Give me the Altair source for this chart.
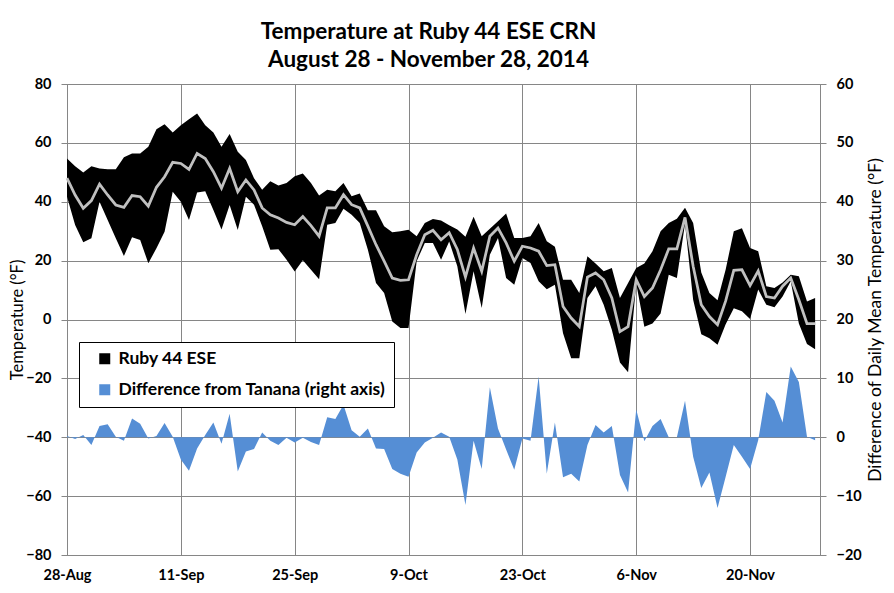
import altair as alt
import pandas as pd

start_date = "2014-08-28"

t_max = [54.7, 52.1, 49.9, 52.1, 51.3, 51.0, 51.0, 55.1, 56.4, 56.4,
         58.7, 64.6, 66.3, 63.5, 66.0, 68.0, 70.0, 66.0, 63.5, 58.7,
         63.0, 57.0, 54.2, 48.0, 44.1, 47.0, 45.5, 46.4, 48.7, 49.6,
         46.4, 42.1, 44.1, 43.6, 46.4, 41.9, 42.8, 37.1, 37.1, 31.7,
         29.6, 30.0, 30.5, 28.3, 32.8, 34.1, 33.6, 32.0, 30.6, 28.1,
         34.9, 28.3, 30.8, 33.4, 36.0, 27.7, 27.7, 28.3, 32.8, 26.6,
         24.7, 13.5, 13.5, 9.0, 21.5, 19.0, 16.4, 17.5, 7.3, 12.4,
         17.5, 19.0, 23.2, 30.0, 32.8, 34.2, 38.0, 32.8, 16.0, 9.0,
         6.5, 17.0, 30.0, 31.0, 24.3, 23.2, 11.3, 10.7, 12.6, 15.2,
         14.7, 6.1, 7.3]

t_mean = [48.0, 42.3, 37.8, 40.4, 46.0, 42.3, 38.9, 38.1, 42.1, 41.7,
          38.5, 44.9, 48.5, 53.4, 53.0, 51.0, 56.4, 54.7, 50.2, 44.6,
          51.3, 43.4, 47.4, 44.0, 37.9, 35.6, 34.5, 33.0, 32.2, 35.0,
          31.9, 28.3, 37.9, 37.9, 42.4, 39.0, 37.9, 31.7, 25.4, 19.8,
          14.1, 13.3, 13.5, 22.0, 28.8, 30.3, 27.1, 29.5, 23.8, 14.4,
          24.3, 16.4, 28.3, 31.1, 26.0, 19.8, 24.9, 24.3, 23.2, 18.3,
          18.6, 4.4, 0.5, -2.4, 14.4, 15.8, 13.5, 7.3, -4.1, -2.4,
          13.5, 7.8, 10.7, 16.9, 24.0, 24.0, 34.7, 18.1, 5.0, 1.0,
          -1.8, 6.3, 16.7, 16.9, 11.5, 16.5, 7.8, 7.3, 11.3, 14.1,
          6.7, -1.4, -1.4]

t_min = [41.7, 32.1, 26.2, 27.6, 40.0, 33.8, 27.6, 21.6, 27.9, 27.0,
         19.1, 24.2, 29.8, 43.4, 40.0, 33.8, 43.1, 43.6, 37.2, 30.6,
         38.9, 30.4, 41.7, 39.0, 31.7, 23.7, 23.9, 20.3, 16.3, 20.1,
         16.9, 13.7, 32.2, 32.8, 37.6, 35.6, 32.8, 23.7, 12.4, 9.0,
         -0.7, -2.9, -2.9, 19.8, 26.0, 26.0, 20.3, 26.5, 18.1, 1.9,
         16.4, 3.9, 22.0, 27.7, 14.1, 11.8, 20.9, 19.2, 13.0, 10.3,
         11.8, -4.7, -13.2, -13.2, 7.3, 11.3, 5.0, -3.5, -14.6, -17.9,
         12.2, -2.5, -1.4, 2.0, 15.2, 14.1, 32.5, 6.7, -5.0, -6.4,
         -8.6, -1.6, 3.8, 2.8, 0.2, 10.2, 5.0, 4.2, 7.8, 13.0,
         -1.4, -8.3, -10.1]

diff_tanana = [0.2, -0.3, 0.4, -1.3, 1.9, 2.2, 0.1, -0.6, 3.2, 2.3,
               -0.2, 0.2, 2.4, 0.1, -3.8, -5.7, -1.9, 0.4, 2.5, -1.1,
               4.0, -5.8, -2.4, -2.0, 0.8, -0.6, -1.3, -0.1, -0.9, -0.1,
               -0.8, -1.3, 3.4, 3.1, 5.5, 1.2, 0.1, 1.5, -1.9, -2.0,
               -5.4, -6.2, -6.7, -2.6, -0.9, -0.1, 0.8, 0.1, -3.8, -11.5,
               -0.6, -5.4, 8.5, 1.5, -2.1, -5.5, -0.2, -0.6, 10.3, -6.2,
               2.5, -6.8, -6.2, -7.5, -1.3, 2.1, 0.8, 1.9, -6.4, -9.4,
               4.7, -0.7, 1.9, 3.1, 0.0, 0.0, 6.2, -3.3, -8.6, -6.0,
               -12.0, -6.7, -1.3, -3.3, -5.4, -0.5, 7.7, 6.2, 2.5, 12.0,
               9.4, 0.1, -0.5]

tick_dates = [(2014, 8, 28), (2014, 9, 11), (2014, 9, 25), (2014, 10, 9),
              (2014, 10, 23), (2014, 11, 6), (2014, 11, 20)]
y_left_ticks = [-80, -60, -40, -20, 0, 20, 40, 60, 80]
y_right_ticks = [-20, -10, 0, 10, 20, 30, 40, 50, 60]
series_names = ["Ruby 44 ESE", "Difference from Tanana (right axis)"]
series_colors = ["#000000", "#558ED5"]

dates = pd.date_range(start_date, periods=len(t_max), freq="D").strftime("%Y-%m-%dT00:00:00")
df = pd.DataFrame({"date": list(dates), "tmax": t_max, "tmean": t_mean,
                   "tmin": t_min, "diff": diff_tanana})
df["band_series"] = series_names[0]
df["diff_series"] = series_names[1]

FONT = "Lato"
GRID = "#868686"

axis_style = dict(
    gridColor=GRID, gridWidth=1, gridOpacity=1, domainColor=GRID, tickColor=GRID,
    labelFont=FONT, labelFontWeight="bold", labelFontSize=14.5, labelColor="#000000",
    titleFont=FONT, titleFontWeight="normal", titleColor="#000000",
)

x_enc = alt.X(
    "date:T",
    scale=alt.Scale(domain=[alt.DateTime(year=2014, month=8, date=28),
                            alt.DateTime(year=2014, month=11, date=28, hours=14, minutes=24)]),
    axis=alt.Axis(values=[alt.DateTime(year=y, month=m, date=d) for y, m, d in tick_dates],
                  format="%-d-%b", title=None, ticks=False, labelPadding=13,
                  grid=True, labelAlign="center", **axis_style),
)

color_scale = alt.Scale(domain=series_names, range=series_colors)
legend = alt.Legend(title=None, orient="none", legendX=12, legendY=258,
                    strokeColor="#000000", fillColor="#FFFFFF", padding=8,
                    symbolOffset=9, symbolType="square", symbolSize=121,
                    symbolStrokeWidth=0, symbolOpacity=1, labelFont=FONT,
                    labelFontWeight="bold", labelFontSize=17.5, labelColor="#000000",
                    rowPadding=12, labelOffset=5, labelLimit=400)

left_axis = alt.Axis(values=y_left_ticks, title="Temperature (°F)", grid=True,
                     tickSize=6, labelPadding=10, titlePadding=0, titleFontSize=16.5,
                     **axis_style)
left_scale = alt.Scale(domain=[-80, 80], nice=False, zero=False)

band = alt.Chart(df).mark_area(opacity=1, interpolate="linear").encode(
    x=x_enc,
    y=alt.Y("tmin:Q", scale=left_scale, axis=left_axis),
    y2="tmax:Q",
    color=alt.Color("band_series:N", scale=color_scale, legend=legend),
)

line = alt.Chart(df).mark_line(color="#C0C0C0", strokeWidth=2.75, interpolate="linear").encode(
    x=x_enc,
    y=alt.Y("tmean:Q", scale=left_scale, axis=left_axis),
)

blue = alt.Chart(df).mark_area(opacity=1, interpolate="linear").encode(
    x=x_enc,
    y=alt.Y("diff:Q", scale=alt.Scale(domain=[-20, 60], nice=False),
            axis=alt.Axis(values=y_right_ticks, orient="right", grid=False,
                          title="Difference of Daily Mean Temperature (°F)",
                          titleAngle=270, tickSize=6, labelPadding=10, titlePadding=23,
                          titleFontSize=17.5, **axis_style)),
    y2=alt.datum(0),
    color=alt.Color("diff_series:N", scale=color_scale, legend=legend),
)

chart = alt.layer(alt.layer(band, line), blue).resolve_scale(y="independent").properties(
    width=753,
    height=471,
    background="#FFFFFF",
    autosize=alt.AutoSizeParams(type="none"),
    padding={"left": 59, "top": 76, "right": 66, "bottom": 30},
    title=alt.TitleParams(["Temperature at Ruby 44 ESE CRN", "August 28 - November 28, 2014"],
                          font=FONT, fontSize=22.5, fontWeight="bold", color="#000000",
                          anchor="middle", dx=-15, offset=5, lineHeight=28),
).configure_view(
    stroke=GRID, strokeWidth=1
)

chart.save("out.html", embed_options={"renderer": "svg", "actions": False})
